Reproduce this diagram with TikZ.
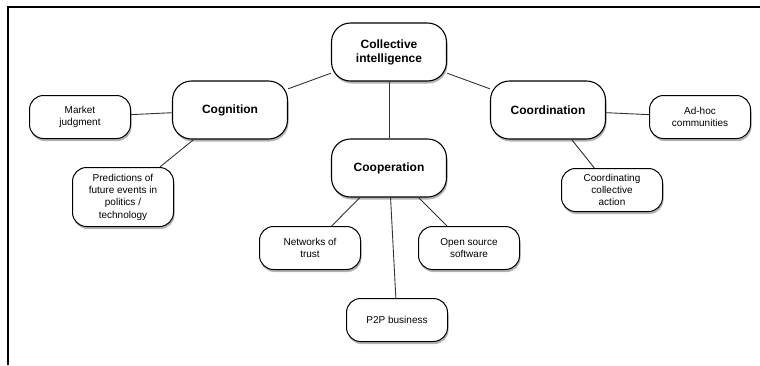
\documentclass[tikz,border=0pt]{standalone}
\usepackage{fontspec}
\setmainfont{Liberation Sans}
\usetikzlibrary{shadows}

\begin{document}
\begin{tikzpicture}[x=1pt,y=-1pt,
    topic/.style={rectangle,rounded corners=19pt,draw,line width=1.1pt,fill=white,
        drop shadow={shadow xshift=1pt,shadow yshift=-2.5pt,opacity=0.6},
        minimum width=115pt,minimum height=58pt,align=center,
        font=\fontsize{12}{14}\selectfont\bfseries},
    leaf/.style={rectangle,rounded corners=14pt,draw,line width=1pt,fill=white,
        drop shadow={shadow xshift=1pt,shadow yshift=-2.5pt,opacity=0.6},
        minimum width=101pt,minimum height=43pt,inner sep=3pt,align=center,
        font=\fontsize{10}{12.3}\selectfont},
    link/.style={draw=black!80,line width=0.9pt}
]
    \useasboundingbox (0,0) rectangle (760,365);
    % frame
    \draw[line width=1.4pt] (8,365) -- (8,7) -- (760,7);

    % Centre
    \node[topic] (ci) at (389,52) {Collective\\intelligence};

    % Three branches
    \node[topic] (cog) at (230,110) {Cognition};
    \node[topic] (coop) at (389,168) {Cooperation};
    \node[topic] (coord) at (548,110) {Coordination};

    % Cognition leaves
    \node[leaf] (market) at (80,117) {Market\\judgment};
    \node[leaf,minimum height=59pt] (predict) at (123,197) {Predictions of\\future events in\\politics /\\technology};

    % Cooperation leaves
    \node[leaf] (trust) at (310,248) {Networks of\\trust};
    \node[leaf] (p2p) at (397,320) {P2P business};
    \node[leaf] (open) at (469,248) {Open source\\software};

    % Coordination leaves
    \node[leaf] (adhoc) at (700,117) {Ad-hoc\\communities};
    \node[leaf] (action) at (612,190) {Coordinating\\collective\\action};

    % Links
    \draw[link] (ci) -- (cog);
    \draw[link] (ci) -- (coop);
    \draw[link] (ci) -- (coord);
    \draw[link] (cog) -- (market);
    \draw[link] (cog) -- (predict);
    \draw[link] (coop) -- (trust);
    \draw[link] (coop) -- (p2p);
    \draw[link] (coop) -- (open);
    \draw[link] (coord) -- (adhoc);
    \draw[link] (coord) -- (action);
\end{tikzpicture}
\end{document}
